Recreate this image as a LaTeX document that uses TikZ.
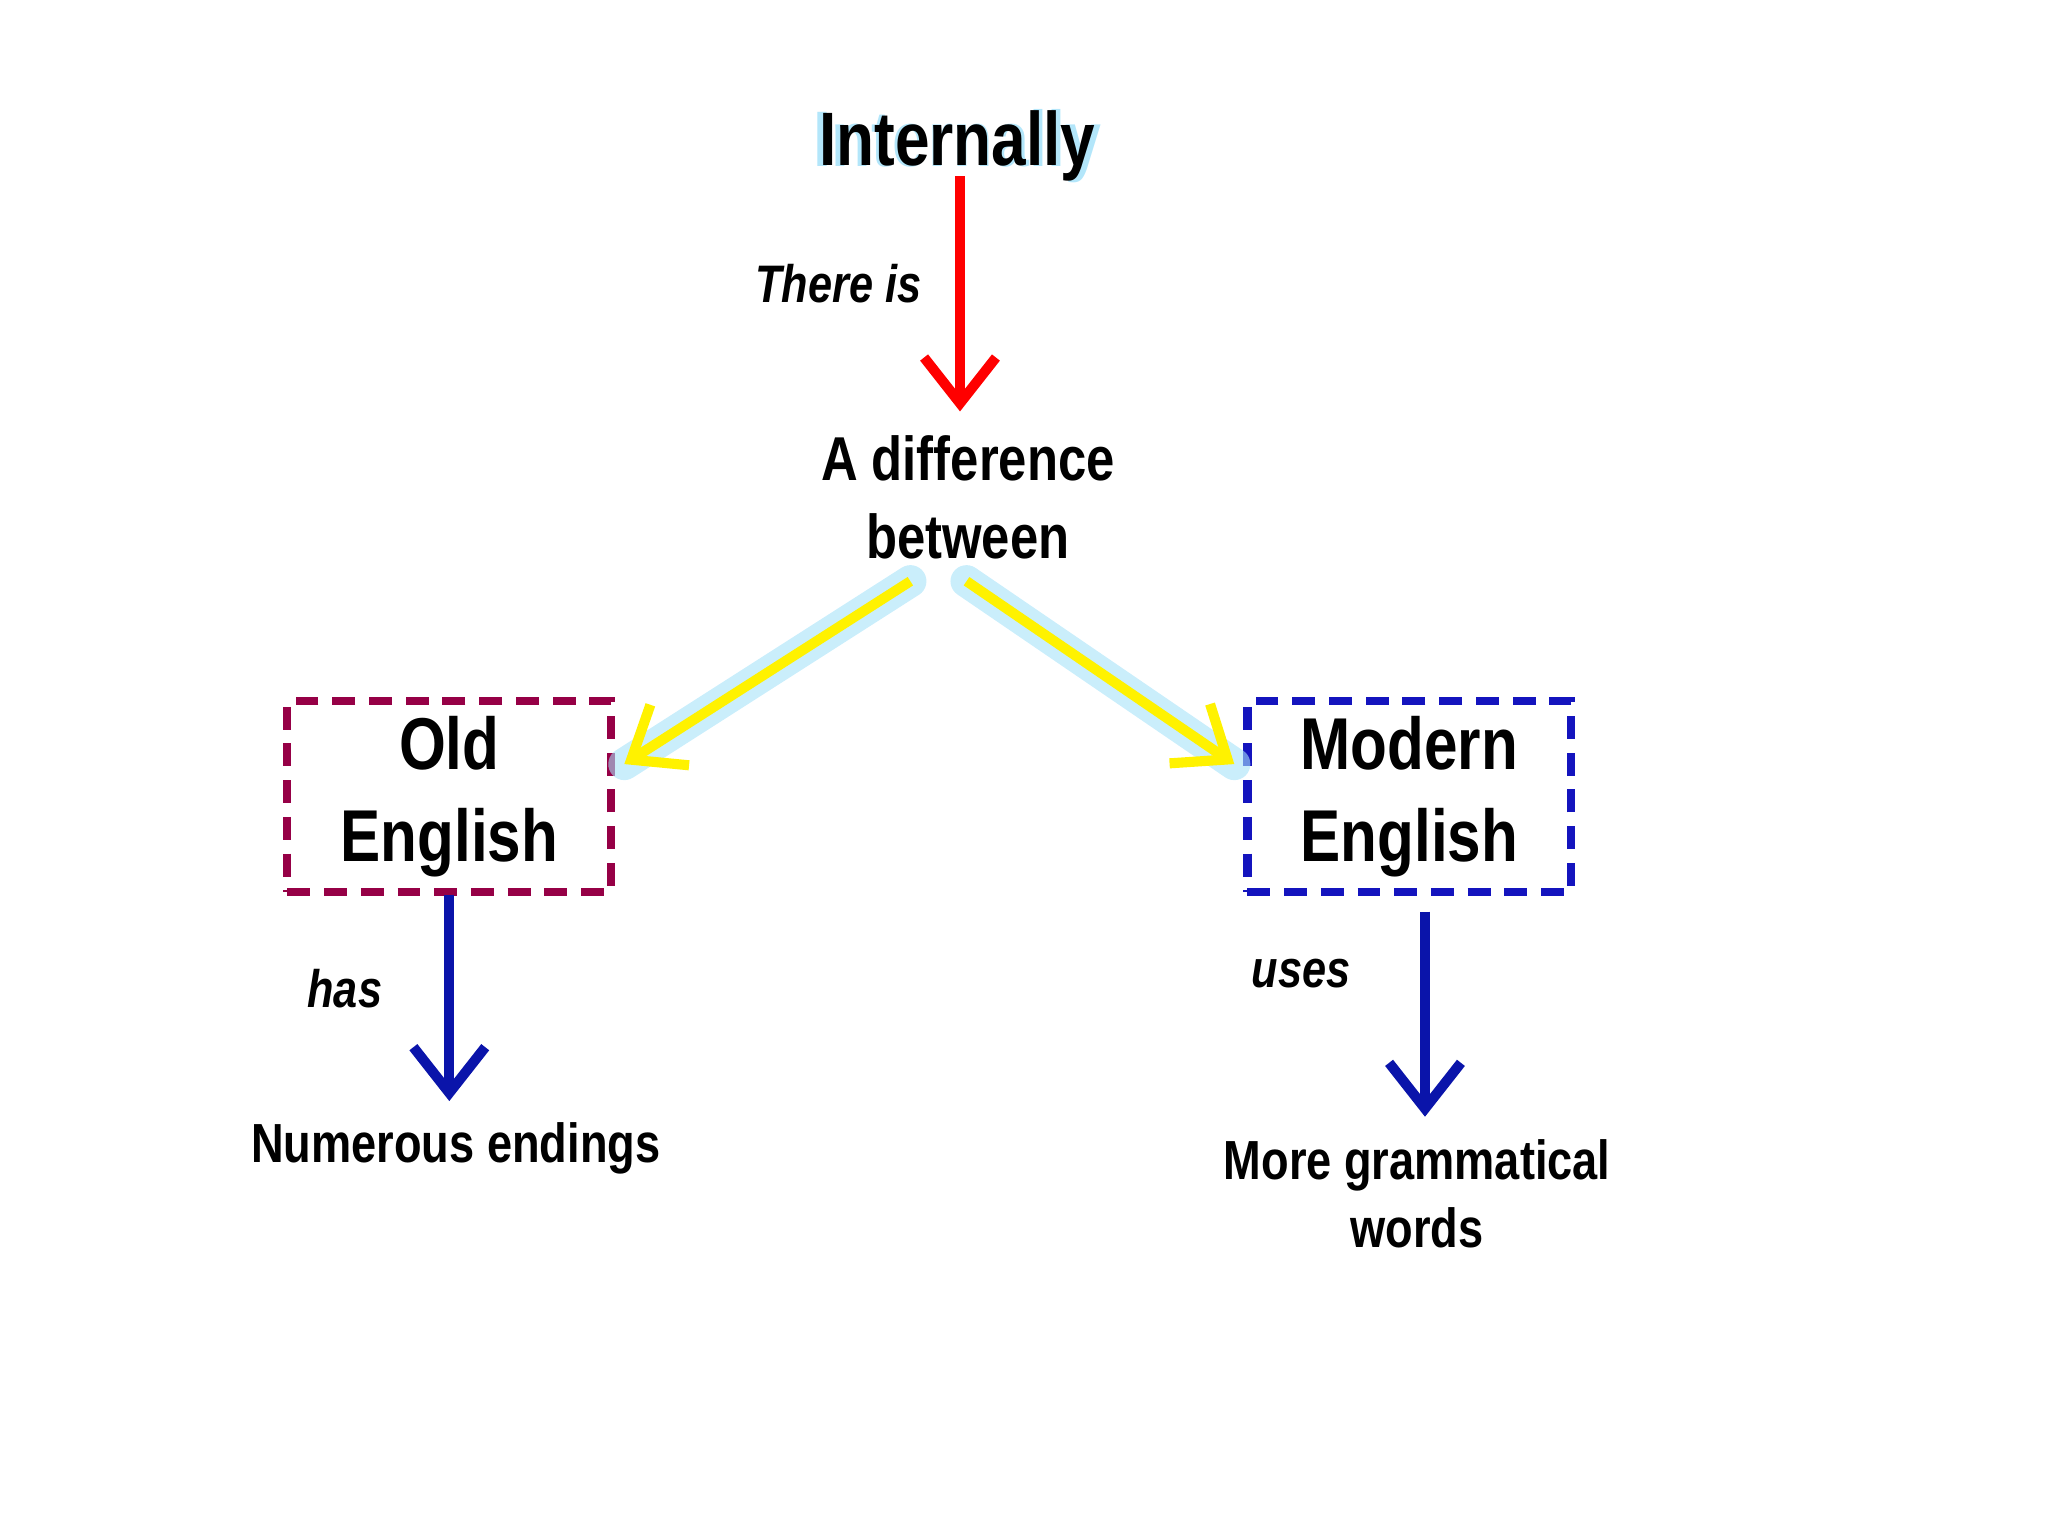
\documentclass[tikz,border=0pt]{standalone}
\usepackage{fontspec}
\setmainfont[FakeStretch=0.82]{Liberation Sans}
\usetikzlibrary{arrows.meta}
\definecolor{oebox}{RGB}{150,0,70}
\definecolor{mebox}{RGB}{20,20,190}
\definecolor{darrow}{RGB}{10,20,170}
\tikzset{
 lbl/.style={font=\bfseries, align=center, inner sep=1pt},
 itl/.style={font=\bfseries\itshape\fontsize{11.5}{14}\selectfont},
 arr/.style={line width=2.2pt, -{Straight Barb[length=3.5mm,width=5.5mm,line width=2.2pt]}},
 glow/.style={line width=7pt, cyan!35, opacity=0.6, line cap=round},
 dbox/.style={draw, line width=1.8pt, dash pattern=on 5pt off 3pt, minimum width=2.48cm, minimum height=1.44cm, align=center, font=\bfseries\fontsize{16}{20}\selectfont}
}
\begin{document}
\begin{tikzpicture}
\useasboundingbox (0,0) rectangle (15.68,-11.76);
\node[text=cyan!30, font=\bfseries\fontsize{16.5}{20}\selectfont, scale=1.04] at (7.33,-1.12) {Internally};
\node[lbl, font=\bfseries\fontsize{16.5}{20}\selectfont] (int) at (7.33,-1.12) {Internally};
\node[lbl, font=\bfseries\fontsize{13.5}{17}\selectfont] (diff) at (7.41,-3.81) {A difference\\between};
\node[dbox, draw=oebox] (oe) at (3.44,-6.10) {Old\\English};
\node[dbox, draw=mebox] (me) at (10.79,-6.10) {Modern\\English};
\node[lbl, font=\bfseries\fontsize{12}{14}\selectfont] (num) at (3.49,-8.79) {Numerous endings};
\node[lbl, font=\bfseries\fontsize{12}{15}\selectfont] (gram) at (10.85,-9.14) {More grammatical\\words};
\coordinate (r1) at (7.35,-1.35); \coordinate (r2) at (7.35,-3.15);
\coordinate (y1) at (6.97,-4.45); \coordinate (y2) at (4.78,-5.85);
\coordinate (y3) at (7.40,-4.45); \coordinate (y4) at (9.45,-5.85);
\coordinate (b1) at (3.44,-6.85); \coordinate (b2) at (3.44,-8.43);
\coordinate (b3) at (10.91,-6.98); \coordinate (b4) at (10.91,-8.55);
\draw[glow] (y1) -- (y2); \draw[glow] (y3) -- (y4);
\draw[arr, red] (r1) -- (r2);
\draw[arr, yellow] (y1) -- (y2);
\draw[arr, yellow] (y3) -- (y4);
\draw[arr, darrow] (b1) -- (b2);
\draw[arr, darrow] (b3) -- (b4);
\node[itl] at (6.42,-2.17) {There is};
\node[itl] at (2.64,-7.57) {has};
\node[itl] at (9.96,-7.45) {uses};
\end{tikzpicture}
\end{document}
